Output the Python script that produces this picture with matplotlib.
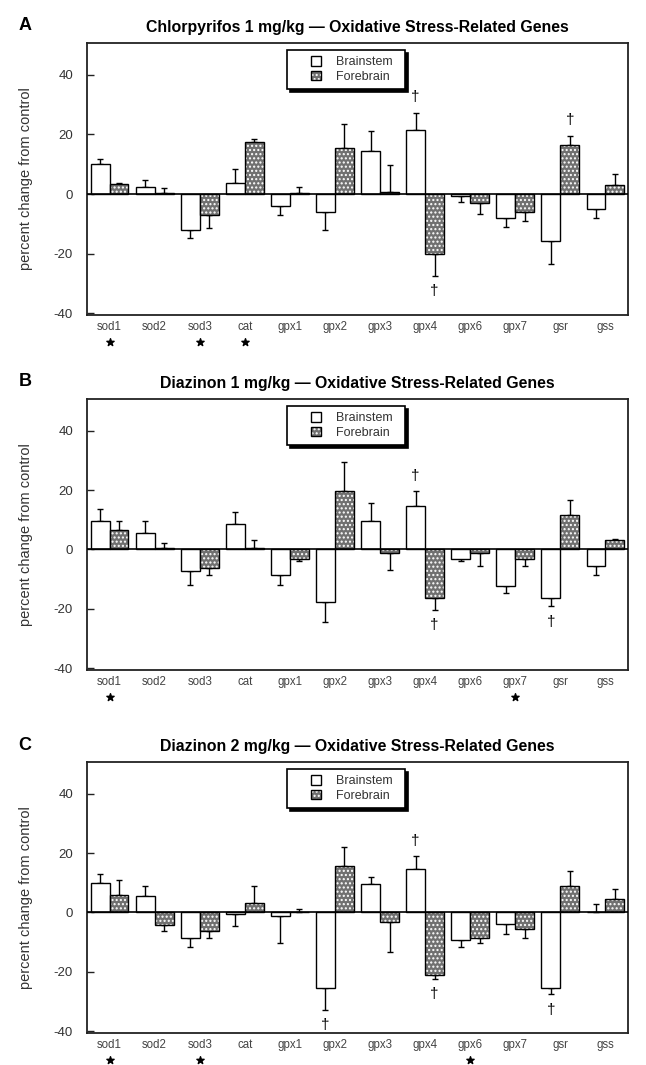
import matplotlib.pyplot as plt
import numpy as np
from matplotlib.patches import Rectangle
from matplotlib.legend_handler import HandlerPatch
from matplotlib.transforms import blended_transform_factory

plt.rcParams['font.family'] = ['Liberation Sans', 'DejaVu Sans']
plt.rcParams['axes.unicode_minus'] = False

genes = ['sod1', 'sod2', 'sod3', 'cat', 'gpx1', 'gpx2', 'gpx3', 'gpx4', 'gpx6', 'gpx7', 'gsr', 'gss']
titles = ['Chlorpyrifos 1 mg/kg \u2014 Oxidative Stress-Related Genes',
          'Diazinon 1 mg/kg \u2014 Oxidative Stress-Related Genes',
          'Diazinon 2 mg/kg \u2014 Oxidative Stress-Related Genes']
letters = ['A', 'B', 'C']

# percent change from control, and SEM
brainstem_a = [10, 2.2, -12, 3.6, -4, -6, 14.5, 21.5, -0.8, -8.1, -15.8, -5.1]
brainstem_a_sem = [1.8, 2.5, 2.9, 4.9, 3, 6, 6.8, 5.8, 1.9, 3, 7.7, 3]
forebrain_a = [3.3, 0.5, -7, 17.6, 0.3, 15.4, 0.7, -20.1, -3, -5.9, 16.4, 3.1]
forebrain_a_sem = [0.4, 1.5, 4.5, 1.0, 1.9, 8.1, 8.9, 7.4, 3.8, 3.1, 3.1, 3.6]

brainstem_b = [9.7, 5.6, -7.2, 8.6, -8.7, -17.7, 9.6, 14.5, -3.1, -12.3, -16.2, -5.6]
brainstem_b_sem = [3.9, 4.1, 4.9, 3.9, 3.4, 6.7, 5.9, 5.1, 0.8, 2.3, 2.9, 2.9]
forebrain_b = [6.6, 0.6, -6.1, 0.6, -3.1, 19.8, -1.1, -16.3, -1.1, -3.1, 11.6, 3.2]
forebrain_b_sem = [3.1, 1.5, 2.6, 2.6, 0.9, 9.8, 5.9, 4.1, 4.6, 2.5, 5.0, 0.4]

brainstem_c = [9.8, 5.6, -8.7, -0.6, -1.1, -25.6, 9.6, 14.7, -9.3, -4, -25.6, 0]
brainstem_c_sem = [3.2, 3.2, 2.9, 3.9, 9.1, 7.2, 2.3, 4.2, 2.3, 3.1, 1.9, 3]
forebrain_c = [5.9, -4.2, -6.2, 3.2, 0.3, 15.8, -3.2, -21.1, -8.7, -5.6, 8.8, 4.7]
forebrain_c_sem = [5.1, 2.0, 2.5, 5.6, 0.8, 6.2, 10.1, 1.3, 1.5, 2.9, 5.1, 3.2]

# significance marks: stars under gene names, daggers on bars
stars_a = ['sod1', 'sod3', 'cat']
stars_b = ['sod1', 'gpx7']
stars_c = ['sod1', 'sod3', 'gpx6']
dagger_brainstem_a = ['gpx4']
dagger_forebrain_a = ['gpx4', 'gsr']
dagger_brainstem_b = ['gpx4', 'gsr']
dagger_forebrain_b = ['gpx4']
dagger_brainstem_c = ['gpx2', 'gpx4', 'gsr']
dagger_forebrain_c = ['gpx4']

panels = [
    (brainstem_a, brainstem_a_sem, forebrain_a, forebrain_a_sem, stars_a, dagger_brainstem_a, dagger_forebrain_a),
    (brainstem_b, brainstem_b_sem, forebrain_b, forebrain_b_sem, stars_b, dagger_brainstem_b, dagger_forebrain_b),
    (brainstem_c, brainstem_c_sem, forebrain_c, forebrain_c_sem, stars_c, dagger_brainstem_c, dagger_forebrain_c),
]

W, H = 646, 1065
fig = plt.figure(figsize=(W / 100, H / 100), dpi=100)
# axes boxes in pixels: (top, bottom)
boxes = [(43, 315), (399, 670), (762, 1033)]
left_px, right_px = 87, 628
x = np.arange(len(genes))
bw = 0.42
spine_col = '#222222'


def square(legend, orig_handle, xdescent, ydescent, width, height, fontsize):
    s = height * 1.05
    return Rectangle((-xdescent + width - s, -ydescent + (height - s) / 2), s, s)


def one_sided(vals, sem):
    vals = np.array(vals, float)
    sem = np.array(sem, float)
    lower = np.where(vals < 0, sem, 0)
    upper = np.where(vals >= 0, sem, 0)
    return vals, np.vstack([lower, upper])


for k, (bs, bs_sem, fb, fb_sem, stars, dag_b, dag_f) in enumerate(panels):
    top, bot = boxes[k]
    ax = fig.add_axes([left_px / W, 1 - bot / H, (right_px - left_px) / W, (bot - top) / H])

    bv, berr = one_sided(bs, bs_sem)
    fv, ferr = one_sided(fb, fb_sem)

    ax.bar(x - bw / 2, bv, bw, color='white', edgecolor='black', linewidth=1.0, zorder=2)
    ax.bar(x + bw / 2, fv, bw, color='#707070', edgecolor='white', hatch='....', linewidth=0, zorder=2)
    ax.bar(x + bw / 2, fv, bw, fill=False, edgecolor='black', linewidth=1.0, zorder=3)
    ax.errorbar(x - bw / 2, bv, yerr=berr, fmt='none', ecolor='black', elinewidth=1.0,
                capsize=2.5, capthick=1.0, zorder=1)
    ax.errorbar(x + bw / 2, fv, yerr=ferr, fmt='none', ecolor='black', elinewidth=1.0,
                capsize=2.5, capthick=1.0, zorder=1)
    ax.axhline(0, color='black', linewidth=1.2, zorder=4)

    # daggers
    for names, vals, sems, off in [(dag_b, bv, bs_sem, -bw / 2), (dag_f, fv, fb_sem, bw / 2)]:
        for g in names:
            i = genes.index(g)
            sgn = 1 if vals[i] >= 0 else -1
            ax.text(i + off, vals[i] + sgn * (sems[i] + 5.2), '\u2020', ha='center', va='center',
                    fontsize=11, color='black')

    # stars under gene labels
    trans = blended_transform_factory(ax.transData, ax.transAxes)
    sx = [genes.index(g) for g in stars]
    ax.scatter(sx, [-0.1] * len(sx), marker='*', s=30, color='black', transform=trans,
               clip_on=False, zorder=5)

    ax.set_xlim(-0.5, len(genes) - 0.5)
    ax.set_ylim(-40.6, 50.7)
    ax.set_yticks([-40, -20, 0, 20, 40])
    ax.set_xticks(x)
    ax.set_xticklabels(genes, fontsize=8.3, color='#444444')
    ax.tick_params(axis='x', length=0, pad=4)
    ax.tick_params(axis='y', direction='in', length=5, width=1.0, pad=10, labelsize=9.5,
                   labelcolor='#333333', color=spine_col)
    for sp in ax.spines.values():
        sp.set_color(spine_col)
        sp.set_linewidth(1.3)

    ax.set_ylabel('percent change from control', fontsize=10.5, color='#333333')
    ax.yaxis.set_label_coords(-0.1, 0.5)
    ax.set_title(titles[k], fontsize=11.4, fontweight='bold', pad=8)
    fig.text(25 / W, 1 - (top - 17) / H, letters[k], fontsize=13, fontweight='bold',
             ha='center', va='center')

    h_b = Rectangle((0, 0), 1, 1, facecolor='white', edgecolor='black', linewidth=1.0)
    h_f1 = Rectangle((0, 0), 1, 1, facecolor='#707070', edgecolor='white', hatch='....', linewidth=0)
    h_f2 = Rectangle((0, 0), 1, 1, fill=False, edgecolor='black', linewidth=1.0)
    leg = ax.legend([h_b, (h_f1, h_f2)], ['Brainstem  ', 'Forebrain  '], loc='upper center',
                    bbox_to_anchor=(0.479, 0.974), borderaxespad=0, fontsize=9,
                    fancybox=False, shadow={'color': 'black', 'alpha': 1},
                    handlelength=2.2, handletextpad=1.2, labelspacing=0.2, borderpad=0.5,
                    handler_map={Rectangle: HandlerPatch(patch_func=square)})
    leg.get_frame().set_edgecolor('black')
    leg.get_frame().set_linewidth(1.2)
    for t in leg.get_texts():
        t.set_color('#333333')

fig.savefig('out.png', dpi=100)
